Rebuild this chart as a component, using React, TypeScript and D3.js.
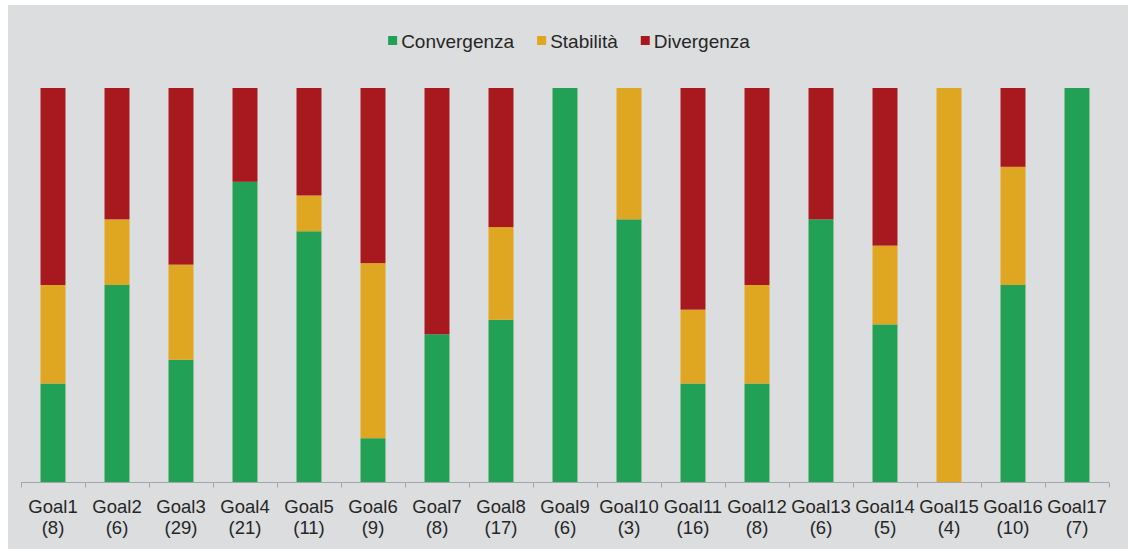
import React, { useEffect, useRef } from "react";
import * as d3 from "d3";

// Goal labels with the number of indicators per goal
const goals = [
  "Goal1", "Goal2", "Goal3", "Goal4", "Goal5", "Goal6", "Goal7", "Goal8", "Goal9",
  "Goal10", "Goal11", "Goal12", "Goal13", "Goal14", "Goal15", "Goal16", "Goal17",
];
const totals = [8, 6, 29, 21, 11, 9, 8, 17, 6, 3, 16, 8, 6, 5, 4, 10, 7];

// Indicator counts per trend class
const convergenza = [2, 3, 9, 16, 7, 1, 3, 7, 6, 2, 4, 2, 4, 2, 0, 5, 7];
const stabilita = [2, 1, 7, 0, 1, 4, 0, 4, 0, 1, 3, 2, 0, 1, 4, 3, 0];
const divergenza = [4, 2, 13, 5, 3, 4, 5, 6, 0, 0, 9, 4, 2, 2, 0, 2, 0];

const seriesNames = ["Convergenza", "Stabilità", "Divergenza"];
const seriesColors = ["#22a055", "#dea621", "#a8191f"];

const W = 1130;
const H = 552;
const FONT = "'Liberation Sans', Arial, sans-serif";

export default function App() {
  const ref = useRef<SVGSVGElement | null>(null);

  useEffect(() => {
    const svg = d3.select(ref.current);
    svg.selectAll("*").remove();

    svg.append("rect")
      .attr("x", 8).attr("y", 5).attr("width", 1120).attr("height", 544)
      .attr("fill", "#dcdddf");

    const rows = goals.map((g, i) => ({
      goal: g,
      total: totals[i],
      Convergenza: convergenza[i] / totals[i],
      "Stabilità": stabilita[i] / totals[i],
      Divergenza: divergenza[i] / totals[i],
    }));

    const x = d3.scaleBand<string>()
      .domain(goals)
      .range([21, 1109])
      .paddingInner(0.61)
      .paddingOuter(0.305);
    const y = d3.scaleLinear().domain([0, 1]).range([482, 88]);

    const stack = d3.stack<any>().keys(seriesNames);
    const layers = stack(rows);

    const g = svg.append("g");
    layers.forEach((layer, li) => {
      g.append("g")
        .attr("fill", seriesColors[li])
        .selectAll("rect")
        .data(layer)
        .join("rect")
        .attr("x", (d: any) => x(d.data.goal) as number)
        .attr("width", x.bandwidth())
        .attr("y", (d) => y(d[1]))
        .attr("height", (d) => Math.max(0, y(d[0]) - y(d[1])));
    });

    // Category axis with tick marks between the bars
    const axisY = 482.5;
    const step = x.step();
    const x0 = 21;
    const axis = svg.append("g").attr("stroke", "#a6a6a6").attr("stroke-width", 1);
    axis.append("line")
      .attr("x1", x0).attr("x2", x0 + step * goals.length)
      .attr("y1", axisY).attr("y2", axisY);
    d3.range(goals.length + 1).forEach((i) => {
      axis.append("line")
        .attr("x1", x0 + i * step + 0.5).attr("x2", x0 + i * step + 0.5)
        .attr("y1", axisY).attr("y2", axisY + 5);
    });

    const labels = svg.append("g")
      .attr("font-family", FONT)
      .attr("font-size", 18.5)
      .attr("fill", "#262626")
      .attr("text-anchor", "middle");
    rows.forEach((r) => {
      const cx = (x(r.goal) as number) + x.bandwidth() / 2;
      const t = labels.append("text").attr("x", cx).attr("y", 513);
      t.append("tspan").attr("x", cx).text(r.goal);
      t.append("tspan").attr("x", cx).attr("dy", 20.5).text(`(${r.total})`);
    });

    // Legend, centred above the plot
    const legend = svg.append("g")
      .attr("font-family", FONT)
      .attr("font-size", 19)
      .attr("fill", "#262626");
    const sw = 9;
    const gapText = 4;
    const gapItem = 23;
    const items = seriesNames.map((name, i) => {
      const it = legend.append("g");
      it.append("rect").attr("width", sw).attr("height", sw).attr("y", 36).attr("fill", seriesColors[i]);
      const txt = it.append("text").attr("x", sw + gapText).attr("y", 47.5).text(name);
      const w = (txt.node() as SVGTextElement).getComputedTextLength();
      return { it, w: sw + gapText + w };
    });
    const totalW = d3.sum(items, (d) => d.w) + gapItem * (items.length - 1);
    let cx = 389 + (749 - 389 - totalW) / 2;
    items.forEach((d) => {
      d.it.attr("transform", `translate(${cx},0)`);
      cx += d.w + gapItem;
    });
  }, []);

  return (
    <svg
      ref={ref}
      width={W}
      height={H}
      style={{ position: "fixed", left: 0, top: 0, display: "block", background: "#ffffff" }}
    />
  );
}
